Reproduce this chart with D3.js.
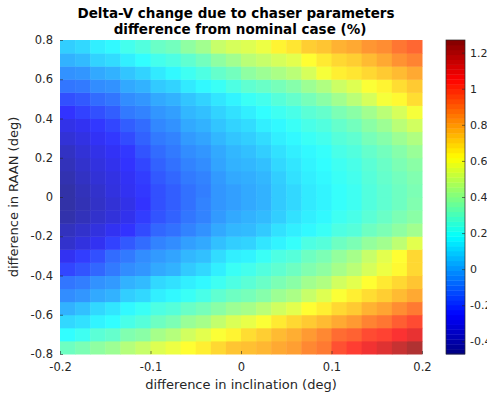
<!DOCTYPE html>
<html>
<head>
<meta charset="utf-8">
<script src="https://cdn.jsdelivr.net/npm/d3@7"></script>
<style>
  html, body { margin: 0; padding: 0; background: #fff; overflow: hidden; }
  text { font-family: "DejaVu Sans", sans-serif; }
</style>
</head>
<body>
<div id="chart"></div>
<script>
// cell edges of the pcolor grid (25 edges -> 24 cells each way)
const incEdges = [-0.2, -0.1833, -0.1667, -0.15, -0.1333, -0.1167, -0.1, -0.0833, -0.0667, -0.05, -0.0333, -0.0167,
  0, 0.0167, 0.0333, 0.05, 0.0667, 0.0833, 0.1, 0.1167, 0.1333, 0.15, 0.1667, 0.1833, 0.2];
const raanEdges = [-0.8, -0.7333, -0.6667, -0.6, -0.5333, -0.4667, -0.4, -0.3333, -0.2667, -0.2, -0.1333, -0.0667,
  0, 0.0667, 0.1333, 0.2, 0.2667, 0.3333, 0.4, 0.4667, 0.5333, 0.6, 0.6667, 0.7333, 0.8];

// delta-V difference (%), rows listed from top (RAAN +0.8) to bottom (RAAN -0.8)
const deltaV = [
  [0.08, 0.10, 0.15, 0.17, 0.22, 0.25, 0.30, 0.32, 0.38, 0.42, 0.50, 0.53, 0.55, 0.58, 0.64, 0.67, 0.72, 0.74, 0.78, 0.80, 0.84, 0.86, 0.91, 0.94],
  [0.02, 0.04, 0.09, 0.11, 0.15, 0.18, 0.22, 0.24, 0.28, 0.32, 0.38, 0.42, 0.47, 0.50, 0.53, 0.56, 0.62, 0.66, 0.70, 0.72, 0.76, 0.80, 0.85, 0.88],
  [-0.05, -0.04, 0.00, 0.02, 0.06, 0.09, 0.14, 0.17, 0.21, 0.24, 0.29, 0.32, 0.38, 0.41, 0.44, 0.47, 0.53, 0.60, 0.65, 0.67, 0.70, 0.73, 0.76, 0.80],
  [-0.11, -0.10, -0.06, -0.05, 0.00, 0.02, 0.07, 0.09, 0.14, 0.17, 0.20, 0.24, 0.28, 0.30, 0.33, 0.36, 0.41, 0.45, 0.51, 0.55, 0.61, 0.64, 0.69, 0.73],
  [-0.19, -0.17, -0.13, -0.11, -0.06, -0.04, 0.00, 0.02, 0.06, 0.09, 0.13, 0.16, 0.20, 0.22, 0.26, 0.29, 0.33, 0.37, 0.42, 0.47, 0.53, 0.60, 0.63, 0.69],
  [-0.25, -0.22, -0.19, -0.16, -0.10, -0.08, -0.04, -0.02, 0.03, 0.05, 0.09, 0.12, 0.15, 0.18, 0.21, 0.23, 0.27, 0.29, 0.34, 0.37, 0.42, 0.47, 0.53, 0.60],
  [-0.30, -0.28, -0.24, -0.21, -0.16, -0.13, -0.07, -0.05, 0.00, 0.02, 0.06, 0.09, 0.11, 0.15, 0.17, 0.20, 0.23, 0.25, 0.29, 0.32, 0.37, 0.41, 0.47, 0.52],
  [-0.34, -0.31, -0.27, -0.24, -0.20, -0.15, -0.10, -0.08, -0.03, -0.01, 0.03, 0.06, 0.08, 0.11, 0.15, 0.17, 0.20, 0.22, 0.26, 0.28, 0.33, 0.36, 0.41, 0.45],
  [-0.38, -0.34, -0.30, -0.27, -0.24, -0.18, -0.13, -0.10, -0.06, -0.04, 0.00, 0.03, 0.05, 0.08, 0.12, 0.15, 0.17, 0.19, 0.23, 0.25, 0.29, 0.32, 0.36, 0.40],
  [-0.40, -0.36, -0.32, -0.29, -0.25, -0.21, -0.15, -0.12, -0.08, -0.06, -0.01, 0.02, 0.03, 0.05, 0.10, 0.13, 0.16, 0.18, 0.21, 0.23, 0.27, 0.30, 0.34, 0.37],
  [-0.42, -0.38, -0.34, -0.31, -0.27, -0.23, -0.17, -0.14, -0.10, -0.08, -0.03, 0.00, 0.01, 0.03, 0.08, 0.12, 0.15, 0.17, 0.20, 0.22, 0.26, 0.29, 0.32, 0.35],
  [-0.44, -0.40, -0.36, -0.32, -0.28, -0.24, -0.19, -0.16, -0.12, -0.09, -0.04, -0.02, 0.00, 0.02, 0.07, 0.10, 0.14, 0.16, 0.19, 0.21, 0.25, 0.28, 0.31, 0.34],
  [-0.44, -0.41, -0.37, -0.34, -0.30, -0.25, -0.19, -0.16, -0.12, -0.08, -0.04, -0.02, 0.00, 0.02, 0.07, 0.10, 0.14, 0.16, 0.19, 0.21, 0.25, 0.28, 0.31, 0.35],
  [-0.43, -0.40, -0.36, -0.33, -0.29, -0.23, -0.18, -0.15, -0.11, -0.08, -0.03, 0.00, 0.02, 0.04, 0.08, 0.12, 0.15, 0.17, 0.21, 0.23, 0.27, 0.30, 0.34, 0.37],
  [-0.39, -0.36, -0.32, -0.28, -0.25, -0.20, -0.14, -0.12, -0.08, -0.05, 0.00, 0.03, 0.04, 0.07, 0.12, 0.15, 0.17, 0.20, 0.24, 0.26, 0.31, 0.34, 0.38, 0.42],
  [-0.36, -0.32, -0.28, -0.22, -0.17, -0.13, -0.08, -0.06, -0.02, 0.00, 0.05, 0.08, 0.09, 0.13, 0.16, 0.19, 0.24, 0.26, 0.31, 0.34, 0.39, 0.42, 0.48, 0.56],
  [-0.28, -0.23, -0.19, -0.13, -0.10, -0.06, -0.03, -0.01, 0.03, 0.05, 0.11, 0.15, 0.16, 0.20, 0.24, 0.26, 0.31, 0.34, 0.39, 0.43, 0.50, 0.56, 0.62, 0.70],
  [-0.21, -0.18, -0.14, -0.10, -0.06, -0.04, 0.00, 0.02, 0.07, 0.10, 0.15, 0.20, 0.22, 0.25, 0.28, 0.31, 0.35, 0.38, 0.43, 0.47, 0.53, 0.58, 0.63, 0.70],
  [-0.11, -0.09, -0.05, -0.03, 0.02, 0.04, 0.10, 0.12, 0.15, 0.17, 0.21, 0.24, 0.27, 0.30, 0.34, 0.37, 0.42, 0.45, 0.52, 0.56, 0.62, 0.66, 0.70, 0.74],
  [-0.06, -0.04, 0.00, 0.02, 0.08, 0.10, 0.15, 0.17, 0.20, 0.23, 0.28, 0.31, 0.33, 0.36, 0.41, 0.44, 0.50, 0.55, 0.61, 0.65, 0.69, 0.72, 0.76, 0.80],
  [0.02, 0.05, 0.10, 0.13, 0.17, 0.20, 0.24, 0.26, 0.30, 0.33, 0.37, 0.41, 0.43, 0.47, 0.52, 0.56, 0.62, 0.65, 0.70, 0.73, 0.78, 0.81, 0.86, 0.90],
  [0.10, 0.12, 0.16, 0.18, 0.23, 0.26, 0.31, 0.34, 0.40, 0.43, 0.49, 0.54, 0.57, 0.61, 0.66, 0.70, 0.73, 0.76, 0.80, 0.83, 0.88, 0.91, 0.96, 1.00],
  [0.18, 0.21, 0.27, 0.29, 0.35, 0.37, 0.43, 0.46, 0.52, 0.56, 0.61, 0.64, 0.69, 0.72, 0.76, 0.79, 0.83, 0.87, 0.93, 0.95, 1.00, 1.02, 1.06, 1.10],
  [0.31, 0.34, 0.38, 0.41, 0.46, 0.50, 0.55, 0.58, 0.62, 0.65, 0.70, 0.74, 0.75, 0.77, 0.80, 0.82, 0.87, 0.90, 0.99, 1.03, 1.08, 1.12, 1.17, 1.22]
];

const incTicks = [-0.2, -0.1, 0, 0.1, 0.2];
const raanTicks = [-0.8, -0.6, -0.4, -0.2, 0, 0.2, 0.4, 0.6, 0.8];
const cbarTicks = [-0.4, -0.2, 0, 0.2, 0.4, 0.6, 0.8, 1, 1.2];
const colorLimits = [-0.47, 1.27];

const width = 487;
const height = 399;
const margin = { top: 40, right: 65, bottom: 45, left: 60 };
const textColor = '#262626';
const tickFont = 11.5;

// MATLAB jet colormap as a piecewise linear scale over the colour limits
const jetStops = [0, 0.125, 0.375, 0.625, 0.875, 1];
const jetColors = ['#000080', '#0000ff', '#00ffff', '#ffff00', '#ff0000', '#800000'];
const color = d3.scaleLinear()
  .domain(jetStops.map(t => colorLimits[0] + t * (colorLimits[1] - colorLimits[0])))
  .range(jetColors)
  .clamp(true);

const svg = d3.select('#chart').append('svg')
  .attr('width', width)
  .attr('height', height);

const x = d3.scaleLinear().domain([-0.2, 0.2]).range([margin.left, 422]);
const y = d3.scaleLinear().domain([-0.8, 0.8]).range([height - margin.bottom, margin.top]);

// flatten cells, bottom row first so row index matches raanEdges
const cells = [];
deltaV.slice().reverse().forEach((row, r) => {
  row.forEach((v, c) => cells.push({ r, c, v }));
});

svg.append('g')
  .attr('opacity', 0.8)
  .selectAll('rect')
  .data(cells)
  .join('rect')
  .attr('x', d => x(incEdges[d.c]))
  .attr('y', d => y(raanEdges[d.r + 1]))
  .attr('width', d => x(incEdges[d.c + 1]) - x(incEdges[d.c]) + 0.5)
  .attr('height', d => y(raanEdges[d.r]) - y(raanEdges[d.r + 1]) + 0.5)
  .attr('fill', d => color(d.v));

// axes with inward ticks, MATLAB style
const xAxis = svg.append('g')
  .attr('transform', `translate(0,${y(-0.8)})`)
  .call(d3.axisBottom(x).tickValues(incTicks).tickFormat(String).tickSizeInner(-3).tickSizeOuter(0).tickPadding(9));
const yAxis = svg.append('g')
  .attr('transform', `translate(${x(-0.2)},0)`)
  .call(d3.axisLeft(y).tickValues(raanTicks).tickFormat(String).tickSizeInner(-3).tickSizeOuter(0).tickPadding(7));

[xAxis, yAxis].forEach(g => {
  g.select('.domain').remove();
  g.selectAll('line').attr('stroke', textColor).attr('stroke-width', 0.6);
  g.selectAll('text').attr('fill', textColor).attr('font-size', tickFont).attr('font-family', '"DejaVu Sans", sans-serif');
});

svg.append('text')
  .attr('x', (x(-0.2) + x(0.2)) / 2)
  .attr('y', 389)
  .attr('text-anchor', 'middle')
  .attr('font-size', 13)
  .attr('fill', textColor)
  .text('difference in inclination (deg)');

svg.append('text')
  .attr('transform', `translate(18,${(y(-0.8) + y(0.8)) / 2}) rotate(-90)`)
  .attr('text-anchor', 'middle')
  .attr('font-size', 13)
  .attr('fill', textColor)
  .text('difference in RAAN (deg)');

const title = svg.append('text')
  .attr('text-anchor', 'middle')
  .attr('font-size', 13.5)
  .attr('font-weight', 'bold')
  .attr('fill', '#000');
title.append('tspan').attr('x', 236).attr('y', 18).text('Delta-V change due to chaser parameters');
title.append('tspan').attr('x', 240).attr('y', 34).text('difference from nominal case (%)');

// colorbar
const cbar = { x: 446, w: 19 };
const cy = d3.scaleLinear().domain(colorLimits).range([y(-0.8), y(0.8)]);
const cbarSteps = d3.range(64);
const stepH = (cy(colorLimits[0]) - cy(colorLimits[1])) / 64;

svg.append('g')
  .selectAll('rect')
  .data(cbarSteps)
  .join('rect')
  .attr('x', cbar.x)
  .attr('width', cbar.w)
  .attr('y', i => cy(colorLimits[0]) - (i + 1) * stepH)
  .attr('height', stepH + 0.4)
  .attr('fill', i => color(colorLimits[0] + (i + 0.5) / 64 * (colorLimits[1] - colorLimits[0])));

svg.append('rect')
  .attr('x', cbar.x)
  .attr('y', cy(colorLimits[1]))
  .attr('width', cbar.w)
  .attr('height', cy(colorLimits[0]) - cy(colorLimits[1]))
  .attr('fill', 'none')
  .attr('stroke', textColor)
  .attr('stroke-width', 0.7);

// the reference crops these labels at the right edge of the figure
const cAxis = svg.append('g')
  .attr('transform', `translate(${cbar.x + cbar.w},0)`)
  .call(d3.axisRight(cy).tickValues(cbarTicks).tickFormat(String).tickSizeInner(-3).tickSizeOuter(0).tickPadding(5));
cAxis.select('.domain').remove();
cAxis.selectAll('line').attr('stroke', textColor).attr('stroke-width', 0.6);
cAxis.selectAll('text').attr('fill', textColor).attr('font-size', 11).attr('font-family', '"DejaVu Sans", sans-serif');
</script>
</body>
</html>
